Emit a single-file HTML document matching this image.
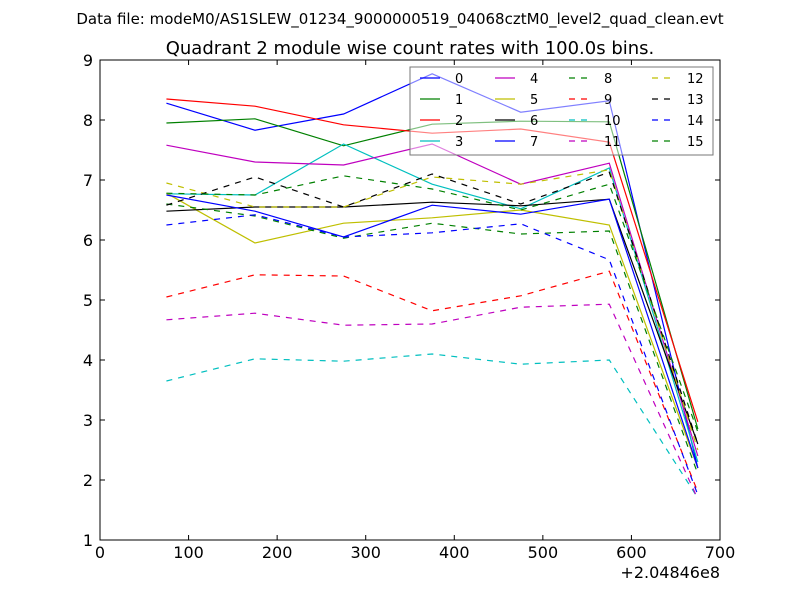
<!DOCTYPE html>
<html><head><meta charset="utf-8"><style>
body{margin:0;background:#fff;}
svg text{font-family:"DejaVu Sans","Liberation Sans",sans-serif;}
</style></head><body>
<svg id="chart" width="800" height="600" xmlns="http://www.w3.org/2000/svg">
<rect width="800" height="600" fill="#fff"/>
<text x="400" y="24" font-size="15" text-anchor="middle">Data file: modeM0/AS1SLEW_01234_9000000519_04068cztM0_level2_quad_clean.evt</text>
<text x="410" y="54" font-size="18" text-anchor="middle">Quadrant 2 module wise count rates with 100.0s bins.</text>
<g id="plot"></g>
<rect x="100" y="60" width="620" height="480" fill="none" stroke="#000" stroke-width="1"/>
<g id="ticks"></g>
<text x="720" y="578" font-size="16" text-anchor="end">+2.04846e8</text>
<g id="legend"></g>
</svg>
<script>
const xCats=[75,175,275,375,475,575,675];
const xTicks=[0,100,200,300,400,500,600,700];
const yTicks=[1,2,3,4,5,6,7,8,9];
const colors=['#0000ff','#008000','#ff0000','#00bfbf','#bf00bf','#bfbf00','#000000','#0000ff','#008000','#ff0000','#00bfbf','#bf00bf','#bfbf00','#000000','#0000ff','#008000'];
const s0=[8.28,7.83,8.1,8.77,8.13,8.32,2.2];
const s1=[7.95,8.02,7.57,7.93,7.98,7.97,2.85];
const s2=[8.35,8.23,7.92,7.78,7.85,7.63,2.97];
const s3=[6.77,6.75,7.6,6.93,6.52,7.2,2.3];
const s4=[7.58,7.3,7.25,7.6,6.93,7.28,2.4];
const s5=[6.78,5.95,6.28,6.37,6.5,6.25,2.2];
const s6=[6.48,6.55,6.55,6.63,6.57,6.68,2.6];
const s7=[6.75,6.48,6.05,6.58,6.43,6.68,2.2];
const s8=[6.6,6.4,6.03,6.28,6.1,6.15,2.1];
const s9=[5.05,5.42,5.4,4.82,5.07,5.48,1.8];
const s10=[3.65,4.02,3.98,4.1,3.93,4.0,1.7];
const s11=[4.67,4.78,4.58,4.6,4.88,4.93,1.68];
const s12=[6.95,6.55,6.55,7.05,6.93,7.17,2.5];
const s13=[6.58,7.05,6.55,7.1,6.6,7.13,2.6];
const s14=[6.25,6.42,6.05,6.12,6.27,5.67,1.75];
const s15=[6.78,6.75,7.07,6.85,6.5,6.93,2.8];
const series=[s0,s1,s2,s3,s4,s5,s6,s7,s8,s9,s10,s11,s12,s13,s14,s15];
const NS='http://www.w3.org/2000/svg';
const xs=v=>100+v*620/700;
const ys=v=>540-(v-1)*60;
const plot=document.getElementById('plot');
series.forEach((s,i)=>{
  const p=document.createElementNS(NS,'polyline');
  p.setAttribute('points',s.map((v,j)=>xs(xCats[j])+','+ys(v)).join(' '));
  p.setAttribute('fill','none');p.setAttribute('stroke',colors[i]);p.setAttribute('stroke-width','1.2');
  if(i>=8)p.setAttribute('stroke-dasharray','6,6');
  
  
  plot.appendChild(p);
});
const tk=document.getElementById('ticks');
xTicks.forEach(t=>{
  const x=xs(t);
  const l=document.createElementNS(NS,'path');
  l.setAttribute('d',`M${x},540v-5M${x},60v5`);l.setAttribute('stroke','#000');
  
  
  tk.appendChild(l);
  const tx=document.createElementNS(NS,'text');
  tx.setAttribute('x',x);tx.setAttribute('y',558);tx.setAttribute('font-size','16');tx.setAttribute('text-anchor','middle');
  tx.textContent=t;
  
  
  tk.appendChild(tx);
});
yTicks.forEach(t=>{
  const y=ys(t);
  const l=document.createElementNS(NS,'path');
  l.setAttribute('d',`M100,${y}h5M720,${y}h-5`);l.setAttribute('stroke','#000');
  
  
  tk.appendChild(l);
  const tx=document.createElementNS(NS,'text');
  tx.setAttribute('x',93);tx.setAttribute('y',y+6);tx.setAttribute('font-size','16');tx.setAttribute('text-anchor','end');
  tx.textContent=t;
  
  
  tk.appendChild(tx);
});
const lg=document.getElementById('legend');
const box=document.createElementNS(NS,'rect');
box.setAttribute('x',410);box.setAttribute('y',67);box.setAttribute('width',303);box.setAttribute('height',88);
box.setAttribute('fill','rgba(255,255,255,0.5)');box.setAttribute('stroke','#777');


lg.appendChild(box);
const colX=[420,495,569,652];
series.forEach((s,i)=>{
  const c=Math.floor(i/4),r=i%4;
  const y=78+r*21;
  const l=document.createElementNS(NS,'line');
  l.setAttribute('x1',colX[c]);l.setAttribute('x2',colX[c]+20);l.setAttribute('y1',y);l.setAttribute('y2',y);
  l.setAttribute('stroke',colors[i]);l.setAttribute('stroke-width','1.2');
  if(i>=8)l.setAttribute('stroke-dasharray','6,6');
  
  
  lg.appendChild(l);
  const tx=document.createElementNS(NS,'text');
  tx.setAttribute('x',colX[c]+35);tx.setAttribute('y',y+5);tx.setAttribute('font-size','13');
  tx.textContent=i;
  
  
  lg.appendChild(tx);
});
</script>
</body></html>
